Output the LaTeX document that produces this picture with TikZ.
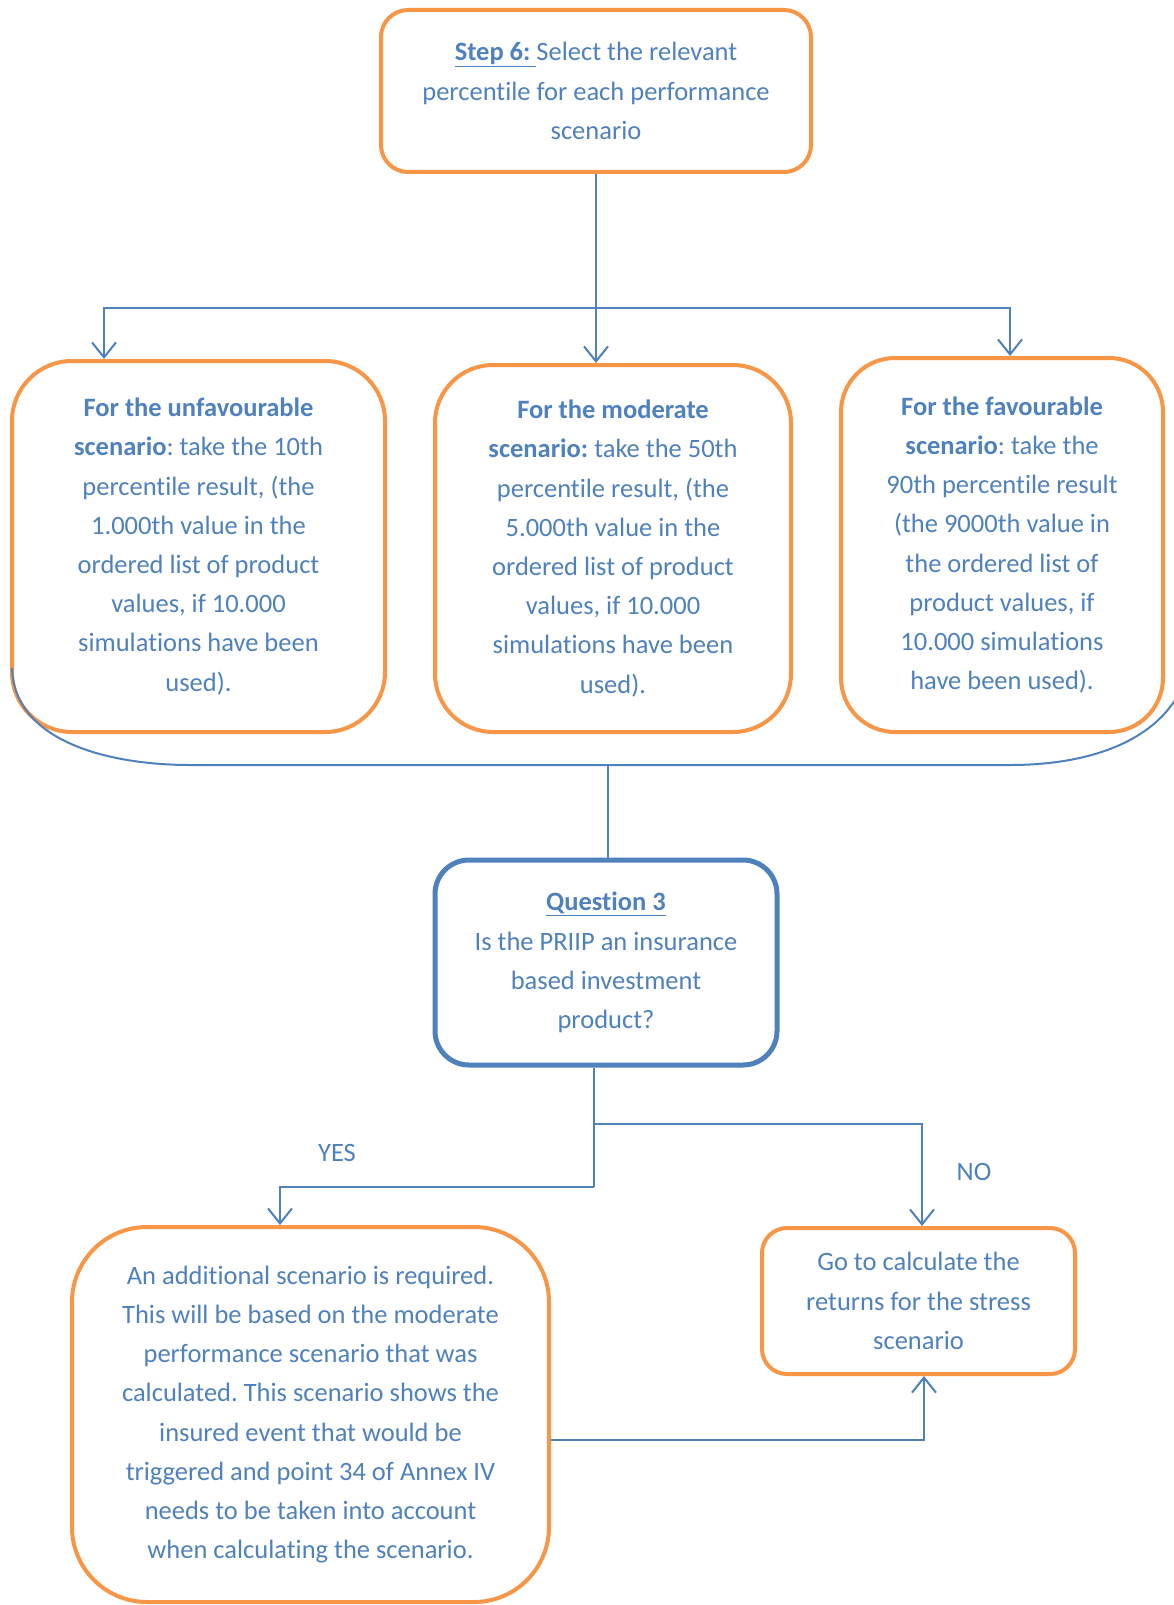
\documentclass[tikz,border=0pt]{standalone}
\usepackage{fontspec}
\setmainfont[Ligatures=NoCommon]{Carlito}
\usetikzlibrary{arrows.meta}
\definecolor{lblue}{RGB}{79,129,189}
\definecolor{lorange}{RGB}{247,150,70}
\frenchspacing
\begin{document}
\begin{tikzpicture}[x=1pt,y=-1pt,
  box/.style={draw=lorange, line width=4pt, text=lblue, align=center, font=\fontsize{26.5}{39.2}\selectfont, inner sep=0pt},
  qbox/.style={box, draw=lblue, line width=5pt},
  conn/.style={draw=lblue, line width=2pt},
  arr/.style={conn, -{Straight Barb[length=15pt,width=24pt]}},
  lbl/.style={text=lblue, font=\fontsize{26.5}{39.2}\selectfont, inner sep=0pt}]
\useasboundingbox (0,0) rectangle (1173,1605);
\fill[white] (0,0) rectangle (1173,1605);

\node[box, rounded corners=27pt, minimum width=430pt, minimum height=162pt] (top) at (596,91)
  {\underline{\textbf{Step 6:}\ }Select the relevant\\ percentile for each performance\\ scenario};

\node[box, rounded corners=60pt, minimum width=373pt, minimum height=371pt] (b1) at (198.5,546.5)
  {\textbf{For the unfavourable}\\ \textbf{scenario}: take the 10th\\ percentile result, (the\\ 1.000th value in the\\ ordered list of product\\ values, if 10.000\\ simulations have been\\ used).};

\node[box, rounded corners=58pt, minimum width=356pt, minimum height=367pt] (b2) at (613,548.5)
  {\textbf{For the moderate}\\ \textbf{scenario:} take the 50th\\ percentile result, (the\\ 5.000th value in the\\ ordered list of product\\ values, if 10.000\\ simulations have been\\ used).};

\node[box, rounded corners=54pt, minimum width=322pt, minimum height=374pt] (b3) at (1002,545)
  {\textbf{For the favourable}\\ \textbf{scenario}: take the\\ 90th percentile result\\ (the 9000th value in\\ the ordered list of\\ product values, if\\ 10.000 simulations\\ have been used).};

\node[qbox, rounded corners=34pt, minimum width=342pt, minimum height=205pt] (q) at (606,962.5)
  {\underline{\textbf{Question 3}}\\ Is the PRIIP an insurance\\ based investment\\ product?};

\node[box, rounded corners=75pt, minimum width=477pt, minimum height=375pt] (b4) at (310.5,1414.5)
  {An additional scenario is required.\\ This will be based on the moderate\\ performance scenario that was\\ calculated. This scenario shows the\\ insured event that would be\\ triggered and point 34 of Annex IV\\ needs to be taken into account\\ when calculating the scenario.};

\node[box, rounded corners=25pt, minimum width=313pt, minimum height=146pt] (b5) at (918.5,1301)
  {Go to calculate the\\ returns for the stress\\ scenario};

% brace-like curve under the three scenario boxes
\coordinate (bc) at (608,765);
\draw[conn] (12,668) .. controls (14,742) and (110,765) .. (190,765) -- (bc) -- (1010,765) .. controls (1100,765) and (1165,735) .. (1185,680);

% connectors from Step 6
\coordinate (s1) at (104,308);
\coordinate (s3) at (1010,308);
\draw[arr] (top.south) -- (top.south |- b2.north);
\draw[arr] (top.south |- s1) -- (s1) -- (s1 |- b1.north);
\draw[arr] (top.south |- s3) -- (s3) -- (s3 |- b3.north);

% brace to question
\draw[conn] (bc) -- (bc |- q.north);

% question branches
\coordinate (qa) at (594,1124);
\coordinate (qb) at (594,1187);
\coordinate (ya) at (280,1187);
\coordinate (na) at (922,1124);
\draw[conn] (q.south -| qa) -- (qb);
\draw[arr] (qb) -- (ya) -- (ya |- b4.north);
\draw[arr] (qa) -- (na) -- (na |- b5.north);
\node[lbl] (yes) at (337,1153) {YES};
\node[lbl] (no) at (974,1172) {NO};

% additional scenario to stress
\coordinate (ba) at (924,1440);
\draw[arr] (b4.east |- ba) -- (ba) -- (ba |- b5.south);
\end{tikzpicture}
\end{document}
